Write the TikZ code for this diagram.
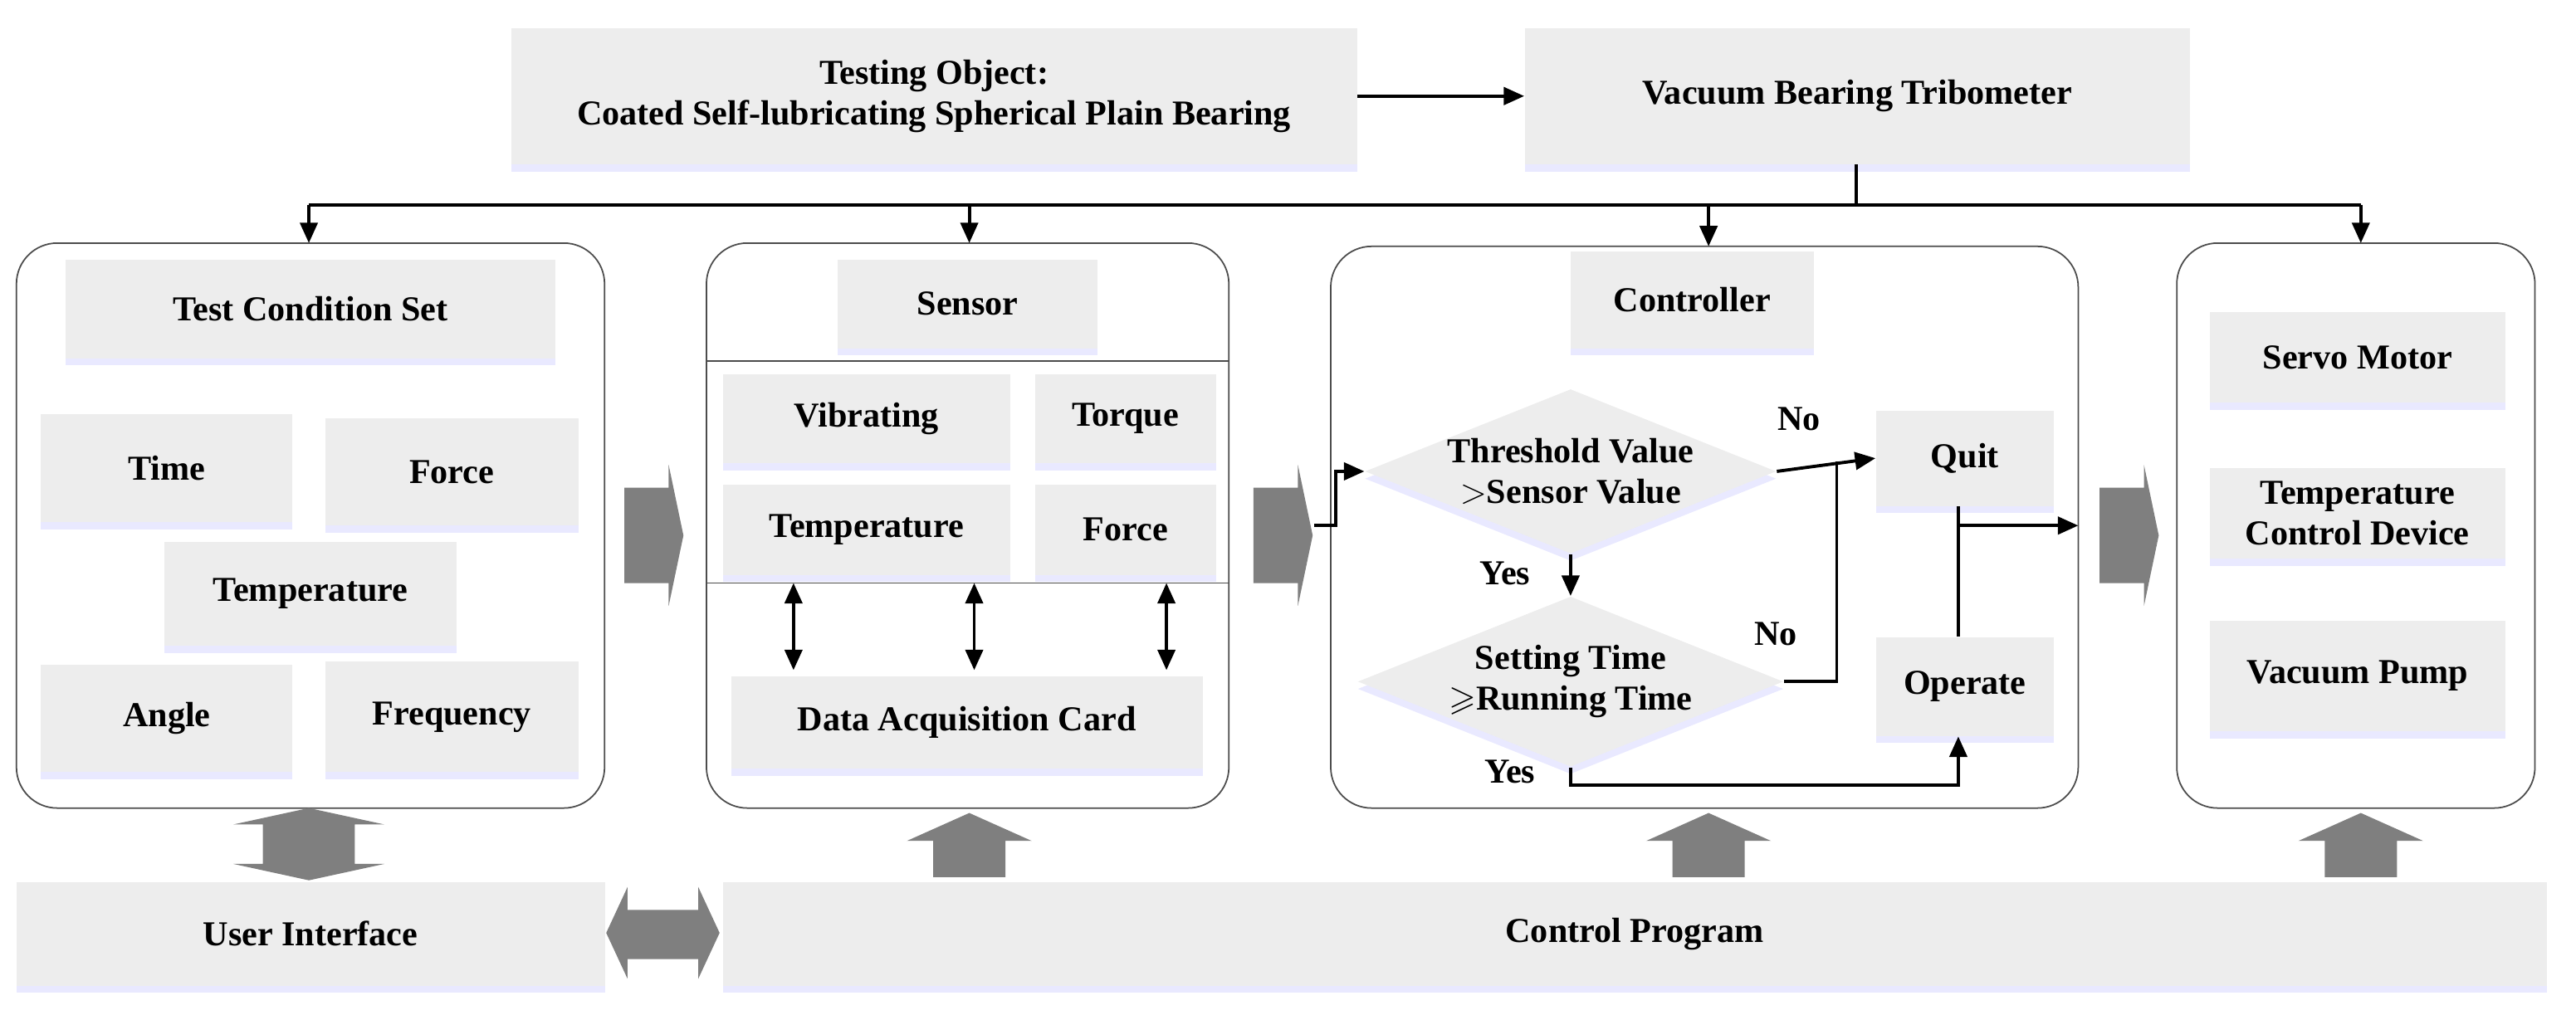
\documentclass[tikz,border=0pt]{standalone}
\usepackage{amssymb}
\usepackage{fontspec}
\setmainfont{Liberation Serif}
\usetikzlibrary{shapes.geometric,shadows,arrows.meta}
\definecolor{boxgray}{HTML}{EDEDED}
\definecolor{bigarrow}{HTML}{7F7F7F}
\begin{document}
\begin{tikzpicture}[x=0.01979cm,y=-0.01979cm,
  font=\fontsize{12}{14}\selectfont\bfseries,
  box/.style={fill=boxgray,draw=none,drop shadow={shadow xshift=0pt,shadow yshift=-2.5pt,fill=blue!25,opacity=0.35},align=center,inner sep=0pt},
  panel/.style={draw=black!70,line width=0.5pt,rounded corners=14pt,fill=none},
  dia/.style={diamond,fill=boxgray,draw=none,aspect=2.5,inner sep=0pt,align=center,drop shadow={shadow xshift=0pt,shadow yshift=-2.5pt,fill=blue!25,opacity=0.35}},
  arr/.style={-{Triangle[length=7pt,width=6pt]},line width=1.1pt},
  ln/.style={line width=1.1pt},
  big/.style={fill=bigarrow,draw=none}]
\useasboundingbox (0,0) rectangle (1568,618);
% top
\node[box,minimum width=10.19cm,minimum height=1.64cm] (obj) at (568.5,58.5) {Testing Object:\\Coated Self-lubricating Spherical Plain Bearing};
\node[box,minimum width=8.01cm,minimum height=1.64cm] (vbt) at (1130.5,58.5) {Vacuum Bearing Tribometer};
\draw[arr] (obj.east) -- (vbt.west);
% panels
\draw[panel] (10,148) rectangle (368,492);
\draw[panel] (430,148) rectangle (748,492);
\draw[panel] (810,150) rectangle (1265,492);
\draw[panel] (1325,148) rectangle (1543,492);
\draw[black!70,line width=0.5pt] (430,220) -- (748,220);
\draw[black!70,line width=0.5pt] (430,355) -- (748,355);
\coordinate (p1) at (188,148); \coordinate (p2) at (590,148);
\coordinate (p3) at (1040,150); \coordinate (p4) at (1437,148);
\coordinate (j) at (1130,125);
\draw[ln] (vbt.south -| j) -- (j);
\draw[ln] (188,125) -- (1437,125);
\foreach \p in {p1,p2,p3,p4} \draw[arr] (\p |- j) -- (\p);
% panel 1
\node[box,minimum width=5.9cm,minimum height=1.19cm] (tcs) at (189,188) {Test Condition Set};
\node[box,minimum width=3.03cm,minimum height=1.31cm] (time) at (101.5,285) {Time};
\node[box,minimum width=3.05cm,minimum height=1.29cm] (force1) at (275,287.5) {Force};
\node[box,minimum width=3.52cm,minimum height=1.25cm] (temp1) at (189,361.5) {Temperature};
\node[box,minimum width=3.03cm,minimum height=1.29cm] (angle) at (101.5,437.5) {Angle};
\node[box,minimum width=3.05cm,minimum height=1.33cm] (freq) at (275,436.5) {Frequency};
% panel 2
\node[box,minimum width=3.13cm,minimum height=1.07cm] (sensor) at (589,185) {Sensor};
\node[box,minimum width=3.46cm,minimum height=1.07cm] (vib) at (527.5,255) {Vibrating};
\node[box,minimum width=2.18cm,minimum height=1.07cm] (torque) at (685,255) {Torque};
\node[box,minimum width=3.46cm,minimum height=1.09cm] (temp2) at (527.5,322.5) {Temperature};
\node[box,minimum width=2.18cm,minimum height=1.09cm] (force2) at (685,322.5) {Force};
\node[box,minimum width=5.68cm,minimum height=1.11cm] (dac) at (588.5,440) {Data Acquisition Card};
\foreach \xx/\n in {483/a,593/b,710/c}{
  \coordinate (u\n) at (\xx,355); \coordinate (d\n) at (\xx,408);
  \draw[{Triangle[length=7pt,width=6pt]}-{Triangle[length=7pt,width=6pt]},line width=1.1pt] (u\n) -- (d\n);}
% panel 3
\node[box,minimum width=2.93cm,minimum height=1.17cm] (ctrl) at (1030,182.5) {Controller};
\node[dia,minimum width=4.2cm,minimum height=1.7cm] (d1) at (956,287) {Threshold Value\\$>$Sensor Value};
\node[dia,minimum width=4.2cm,minimum height=1.7cm] (d2) at (956,415) {Setting Time\\$\geqslant$Running Time};
\node[box,minimum width=2.14cm,minimum height=1.15cm] (quit) at (1196,279) {Quit};
\node[box,minimum width=2.14cm,minimum height=1.19cm] (oper) at (1196,418) {Operate};
\coordinate (in3) at (800,320);
\coordinate (out3) at (1265,320);
\coordinate (ox) at (1192,0);
\draw[arr] (in3) -- (813,320) -- (813,287) -- (d1.west);
\draw[arr] (d1.east) -- (quit.west);
\draw[ln] (d2.east) -- (1118,415) -- (1118,281);
\draw[arr] (d1.south) -- (d2.north);
\draw[arr] (d2.south) -- (956,478) -- (1192,478) -- (oper.south -| ox);
\draw[ln] (oper.north -| ox) -- (quit.south -| ox);
\draw[arr] (1192,320) -- (out3);
\node at (1095,255) {No};
\node at (1081,386) {No};
\node at (916,349) {Yes};
\node at (919,470) {Yes};
% panel 4
\node[box,minimum width=3.56cm,minimum height=1.09cm] (servo) at (1435,217.5) {Servo Motor};
\node[box,minimum width=3.56cm,minimum height=1.09cm] (tcd) at (1435,312.5) {Temperature\\Control Device};
\node[box,minimum width=3.56cm,minimum height=1.33cm] (vp) at (1435,411.5) {Vacuum Pump};
% bottom
\node[box,minimum width=7.09cm,minimum height=1.25cm] (ui) at (189,568.5) {User Interface};
\node[box,minimum width=21.97cm,minimum height=1.25cm] (cp) at (995,568.5) {Control Program};
% big gray arrows right
\foreach \xx in {380,763,1278}{
  \fill[big] (\xx,297) -- (\xx+27,297) -- (\xx+27,283) -- (\xx+36,326) -- (\xx+27,369) -- (\xx+27,355) -- (\xx,355) -- cycle;}
% up arrows
\foreach \xx in {590,1040,1437}{
  \fill[big] (\xx-22,534) -- (\xx-22,512) -- (\xx-38,512) -- (\xx,495) -- (\xx+38,512) -- (\xx+22,512) -- (\xx+22,534) -- cycle;}
% double vertical
\fill[big] (160,502) -- (142,502) -- (188,492) -- (234,502) -- (216,502) -- (216,526) -- (234,526) -- (188,536) -- (142,526) -- (160,526) -- cycle;
% double horizontal
\fill[big] (382,554) -- (382,540) -- (369,568) -- (382,596) -- (382,584) -- (425,584) -- (425,596) -- (438,568) -- (425,540) -- (425,554) -- cycle;
\end{tikzpicture}
\end{document}
